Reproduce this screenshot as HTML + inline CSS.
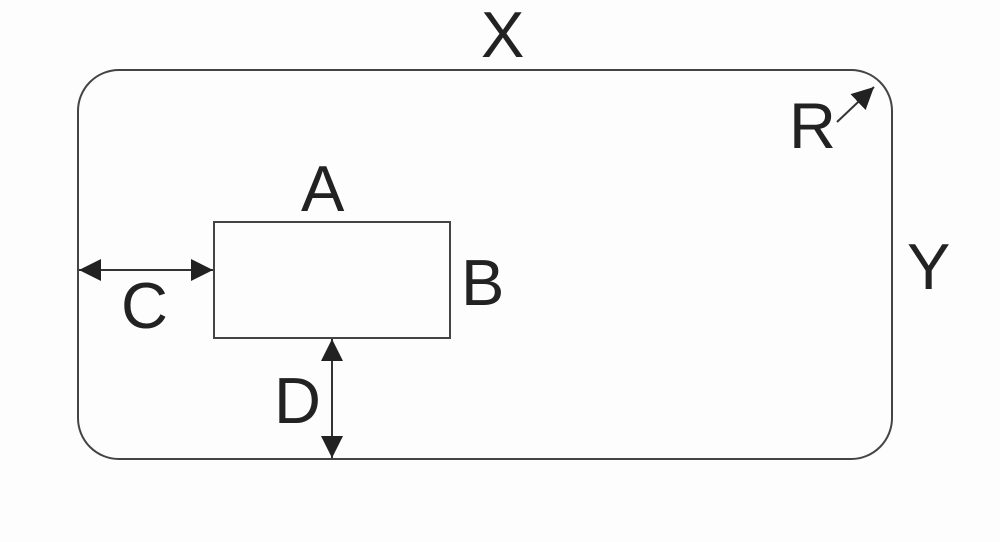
<!DOCTYPE html>
<html><head><meta charset="utf-8"><style>
html,body{margin:0;padding:0;background:#fdfdfd;}
svg{display:block;}
text{font-family:"Liberation Sans",Arial,sans-serif;font-size:65px;fill:#222;}
</style></head><body>
<svg width="1000" height="542" viewBox="0 0 1000 542">
<rect x="0" y="0" width="1000" height="542" fill="#fdfdfd"/>
<defs>
<marker id="ar" viewBox="0 0 10 10" refX="10" refY="5" markerWidth="22" markerHeight="22" markerUnits="userSpaceOnUse" orient="auto-start-reverse">
<path d="M0,0 L10,5 L0,10 z" fill="#222"/>
</marker>
</defs>
<rect x="78" y="70" width="814" height="389" rx="41" ry="41" fill="none" stroke="#444" stroke-width="2"/>
<rect x="214" y="222" width="236" height="116" fill="none" stroke="#444" stroke-width="2"/>
<line x1="79" y1="270" x2="213" y2="270" stroke="#333" stroke-width="2" marker-start="url(#ar)" marker-end="url(#ar)"/>
<line x1="332" y1="339" x2="332" y2="458" stroke="#333" stroke-width="2" marker-start="url(#ar)" marker-end="url(#ar)"/>
<line x1="837" y1="122" x2="874" y2="87" stroke="#333" stroke-width="2" marker-end="url(#ar)"/>
<text x="481" y="57">X</text>
<text x="301" y="211">A</text>
<text x="461" y="305">B</text>
<text x="121" y="328">C</text>
<text x="274" y="423">D</text>
<text x="907" y="289">Y</text>
<text x="789" y="148">R</text>
</svg>
</body></html>
